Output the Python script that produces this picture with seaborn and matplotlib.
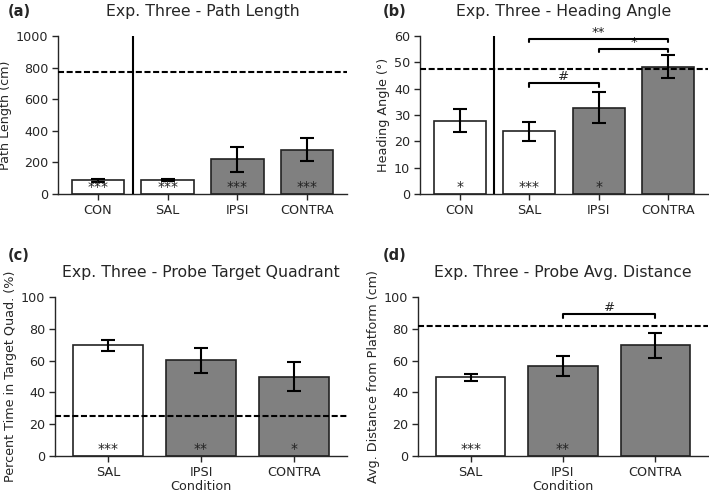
import numpy as np
import pandas as pd
import matplotlib
matplotlib.use("Agg")
import matplotlib.pyplot as plt
import seaborn as sns

# ---- data ----
cats_ab = ["CON", "SAL", "IPSI", "CONTRA"]
cats_cd = ["SAL", "IPSI", "CONTRA"]

path_mean = [86, 88, 219, 280]
path_err = [10, 6, 78, 72]
path_ref = 770
path_stars = ["***", "***", "***", "***"]

head_mean = [27.8, 23.9, 32.8, 48.4]
head_err = [4.3, 3.6, 5.8, 4.3]
head_ref = 47.5
head_stars = ["*", "***", "*", ""]

probe_mean = [69.5, 60.1, 50.0]
probe_err = [3.6, 8.1, 9.2]
probe_ref = 25
probe_stars = ["***", "**", "*"]

dist_mean = [49.4, 56.7, 69.7]
dist_err = [2.0, 6.1, 7.9]
dist_ref = 81.5
dist_stars = ["***", "**", ""]

# brackets: (left category, right category, height, drop, label)
head_brackets = [("SAL", "CONTRA", 59.0, 1.2, "**"),
                 ("IPSI", "CONTRA", 55.2, 1.2, "*"),
                 ("SAL", "IPSI", 42.0, 1.2, "#")]
dist_brackets = [("IPSI", "CONTRA", 89.5, 2.7, "#")]

colors = {"CON": "white", "SAL": "white", "IPSI": "#808080", "CONTRA": "#808080"}

sns.set_style("ticks")
plt.rcParams["font.family"] = ["DejaVu Sans"]

W, H = 709, 493
fig = plt.figure(figsize=(W / 100, H / 100), dpi=100)

FS = 9.2


def ax_at(l, r, t, b):
    return fig.add_axes([l / W, (H - b) / H, (r - l) / W, (b - t) / H])


def panel(ax, cats, means, errs, ref, stars, ylim, yticks, title, ylabel,
          xlabel=None, vline=False, brackets=()):
    df = pd.DataFrame({"cond": cats, "val": means})
    sns.barplot(data=df, x="cond", y="val", hue="cond", palette=colors,
                order=cats, hue_order=cats, width=0.75, edgecolor="#222222",
                linewidth=1.2, legend=False, ax=ax, errorbar=None)
    pos = np.arange(len(cats))
    ax.errorbar(pos, means, yerr=errs, fmt="none", ecolor="black",
                elinewidth=1.5, capsize=5, capthick=1.5, zorder=5)
    ax.axhline(ref, color="black", lw=1.5, ls=(0, (2.9, 1.25)), zorder=6,
               clip_on=False)
    if vline:
        ax.axvline(0.5, color="black", lw=1.5, zorder=6)
    for p, s in zip(pos, stars):
        if s:
            ax.text(p, 0, s, ha="center", va="bottom", fontsize=10,
                    color="#222222", zorder=7)
    for a, b_, h, d, lab in brackets:
        xa, xb = cats.index(a), cats.index(b_)
        ax.plot([xa, xa, xb, xb], [h - d, h, h, h - d], color="black",
                lw=1.5, zorder=7)
        ax.text((xa + xb) / 2, h, lab, ha="center", va="bottom",
                fontsize=9.5, color="#222222")
    ax.set_xlim(-0.57, len(cats) - 1 + 0.57)
    ax.set_ylim(*ylim)
    ax.set_yticks(yticks)
    ax.set_title(title, fontsize=11.3, pad=14.5)
    ax.set_ylabel(ylabel, fontsize=FS, labelpad=3)
    ax.set_xlabel(xlabel if xlabel else "", fontsize=FS, labelpad=1)
    ax.tick_params(labelsize=FS, length=4, width=1, pad=3)
    for sp in ["left", "bottom"]:
        ax.spines[sp].set_linewidth(1.0)
    sns.despine(ax=ax)


ax_a = ax_at(58, 347, 36, 194)
panel(ax_a, cats_ab, path_mean, path_err, path_ref, path_stars, (0, 1000),
      [0, 200, 400, 600, 800, 1000], "Exp. Three - Path Length",
      "Path Length (cm)", vline=True)

ax_b = ax_at(420, 708, 36, 194)
panel(ax_b, cats_ab, head_mean, head_err, head_ref, head_stars, (0, 60),
      [0, 10, 20, 30, 40, 50, 60], "Exp. Three - Heading Angle",
      "Heading Angle (°)", vline=True, brackets=head_brackets)

ax_c = ax_at(55, 347, 297, 456)
panel(ax_c, cats_cd, probe_mean, probe_err, probe_ref, probe_stars, (0, 100),
      [0, 20, 40, 60, 80, 100], "Exp. Three - Probe Target Quadrant",
      "Percent Time in Target Quad. (%)", xlabel="Condition")

ax_d = ax_at(418, 708, 297, 456)
panel(ax_d, cats_cd, dist_mean, dist_err, dist_ref, dist_stars, (0, 100),
      [0, 20, 40, 60, 80, 100], "Exp. Three - Probe Avg. Distance",
      "Avg. Distance from Platform (cm)", xlabel="Condition",
      brackets=dist_brackets)

for lab, x, y in [("(a)", 8, 12), ("(b)", 383, 12), ("(c)", 8, 255), ("(d)", 383, 255)]:
    fig.text(x / W, 1 - y / H, lab, fontsize=10.5, fontweight="bold",
             ha="left", va="center")

fig.savefig("out.png", dpi=100)
